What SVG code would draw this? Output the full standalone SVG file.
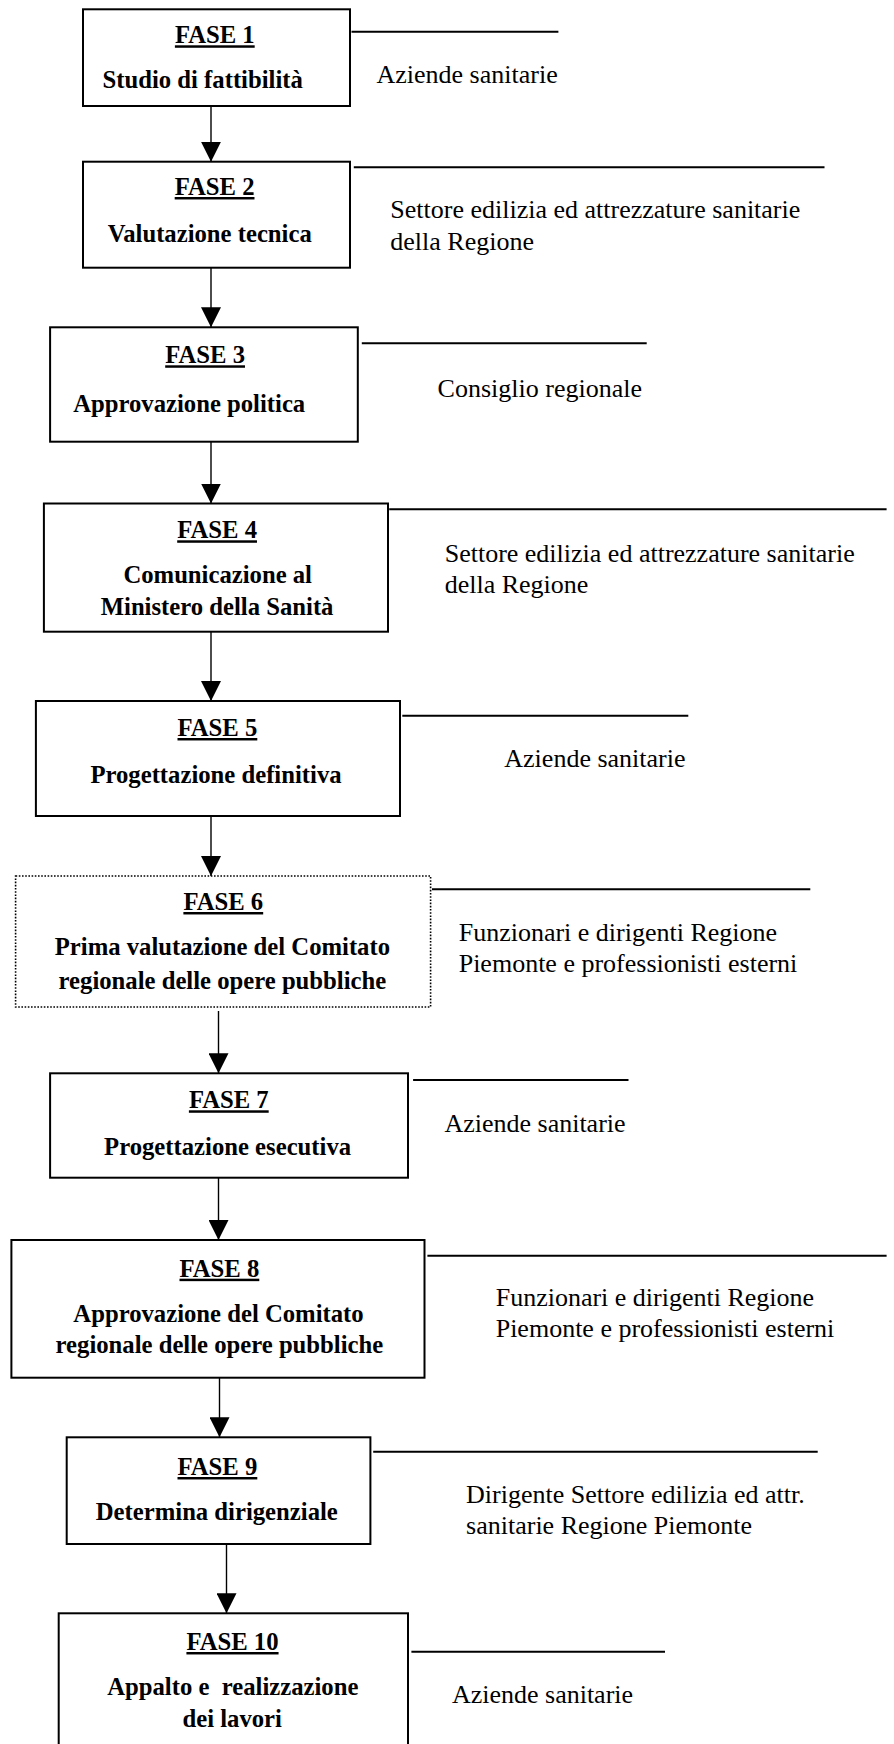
<svg xmlns="http://www.w3.org/2000/svg" width="894" height="1744" viewBox="0 0 894 1744">
<style>
.box{fill:#fff;stroke:#000;stroke-width:2}
.dot{fill:#fff;stroke:#000;stroke-width:1.6;stroke-dasharray:1.6 1.6}
.hl{stroke:#000;stroke-width:2;fill:none}
.ar{stroke:#000;stroke-width:1.4;fill:none;marker-end:url(#ah)}
.b{font-family:"Liberation Serif","Times New Roman",serif;font-weight:bold;font-size:24.7px;text-anchor:middle;fill:#000}
.u{text-decoration:underline}
.r{font-family:"Liberation Serif","Times New Roman",serif;font-size:26px;fill:#000}
</style>
<defs>
<marker id="ah" markerUnits="userSpaceOnUse" markerWidth="20" markerHeight="20" refX="20" refY="10" orient="auto">
<path d="M0,0 L20,10 L0,20 z" fill="#000"/>
</marker>
</defs>
<rect width="894" height="1744" fill="#fff"/>
<g id="connectors">
<line class="ar" x1="211" y1="106" x2="211" y2="161.7"/>
<line class="ar" x1="211" y1="267.7" x2="211" y2="327.3"/>
<line class="ar" x1="211" y1="441.7" x2="211" y2="503.5"/>
<line class="ar" x1="211" y1="631.7" x2="211" y2="701"/>
<line class="ar" x1="211" y1="816" x2="211" y2="876"/>
<line class="ar" x1="218.5" y1="1011" x2="218.5" y2="1073.3"/>
<line class="ar" x1="218.5" y1="1177.7" x2="218.5" y2="1240"/>
<line class="ar" x1="219.5" y1="1377.7" x2="219.5" y2="1437.3"/>
<line class="ar" x1="226.5" y1="1544" x2="226.5" y2="1613.3"/>
<line class="hl" x1="351.5" y1="31.7" x2="558.4" y2="31.7"/>
<line class="hl" x1="353.8" y1="167.3" x2="824.5" y2="167.3"/>
<line class="hl" x1="361.8" y1="343.3" x2="646.7" y2="343.3"/>
<line class="hl" x1="389.2" y1="509.3" x2="886.6" y2="509.3"/>
<line class="hl" x1="402.3" y1="715.7" x2="688.3" y2="715.7"/>
<line class="hl" x1="432" y1="889.3" x2="810.3" y2="889.3"/>
<line class="hl" x1="413.1" y1="1080" x2="628.5" y2="1080"/>
<line class="hl" x1="427.4" y1="1255.7" x2="886.6" y2="1255.7"/>
<line class="hl" x1="373.2" y1="1451.7" x2="817.7" y2="1451.7"/>
<line class="hl" x1="411.4" y1="1651.7" x2="665" y2="1651.7"/>
</g>
<g id="fase1">
<rect class="box" x="83" y="9.3" width="267" height="96.7"/>
<text class="b u" x="214.8" y="43.3">FASE 1</text>
<text class="b" x="202.7" y="88.3">Studio di fattibilità</text>
</g>
<g id="label1"><text class="r" x="376.5" y="83">Aziende sanitarie</text></g>
<g id="fase2">
<rect class="box" x="83" y="161.7" width="267" height="106"/>
<text class="b u" x="214.6" y="195">FASE 2</text>
<text class="b" x="209.7" y="241.7">Valutazione tecnica</text>
</g>
<g id="label2"><text class="r" x="390.3" y="218.3">Settore edilizia ed attrezzature sanitarie</text><text class="r" x="390.3" y="250">della Regione</text></g>
<g id="fase3">
<rect class="box" x="50.1" y="327.3" width="307.7" height="114.4"/>
<text class="b u" x="205.1" y="363.3">FASE 3</text>
<text class="b" x="189.2" y="411.7">Approvazione politica</text>
</g>
<g id="label3"><text class="r" x="437.6" y="396.7">Consiglio regionale</text></g>
<g id="fase4">
<rect class="box" x="43.9" y="503.5" width="344.1" height="128.2"/>
<text class="b u" x="217.1" y="538.3">FASE 4</text>
<text class="b" x="217.7" y="583.3">Comunicazione al</text>
<text class="b" x="217.1" y="615">Ministero della Sanità</text>
</g>
<g id="label4"><text class="r" x="444.7" y="561.7">Settore edilizia ed attrezzature sanitarie</text><text class="r" x="444.7" y="592.7">della Regione</text></g>
<g id="fase5">
<rect class="box" x="35.9" y="701" width="364.1" height="115"/>
<text class="b u" x="217.4" y="736">FASE 5</text>
<text class="b" x="216" y="782.7">Progettazione definitiva</text>
</g>
<g id="label5"><text class="r" x="504.3" y="766.7">Aziende sanitarie</text></g>
<g id="fase6">
<rect class="dot" x="15.6" y="876" width="415" height="131"/>
<text class="b u" x="223.3" y="910">FASE 6</text>
<text class="b" x="222.4" y="955">Prima valutazione del Comitato</text>
<text class="b" x="222.4" y="988.5">regionale delle opere pubbliche</text>
</g>
<g id="label6"><text class="r" x="458.7" y="940.7">Funzionari e dirigenti Regione</text><text class="r" x="458.7" y="972">Piemonte e professionisti esterni</text></g>
<g id="fase7">
<rect class="box" x="50.1" y="1073.3" width="357.9" height="104.4"/>
<text class="b u" x="228.8" y="1108.3">FASE 7</text>
<text class="b" x="227.6" y="1155">Progettazione esecutiva</text>
</g>
<g id="label7"><text class="r" x="444.4" y="1132.3">Aziende sanitarie</text></g>
<g id="fase8">
<rect class="box" x="11.4" y="1240" width="413.1" height="137.7"/>
<text class="b u" x="219.4" y="1276.7">FASE 8</text>
<text class="b" x="218.5" y="1321.7">Approvazione del Comitato</text>
<text class="b" x="219.4" y="1353.3">regionale delle opere pubbliche</text>
</g>
<g id="label8"><text class="r" x="495.7" y="1306">Funzionari e dirigenti Regione</text><text class="r" x="495.7" y="1336.7">Piemonte e professionisti esterni</text></g>
<g id="fase9">
<rect class="box" x="66.7" y="1437.3" width="303.7" height="106.7"/>
<text class="b u" x="217.4" y="1475">FASE 9</text>
<text class="b" x="216.8" y="1520">Determina dirigenziale</text>
</g>
<g id="label9"><text class="r" x="466.1" y="1503.3">Dirigente Settore edilizia ed attr.</text><text class="r" x="466.1" y="1534">sanitarie Regione Piemonte</text></g>
<g id="fase10">
<rect class="box" x="58.7" y="1613.3" width="349.3" height="140"/>
<text class="b u" x="232.5" y="1650">FASE 10</text>
<text class="b" x="232.8" y="1695" xml:space="preserve">Appalto e  realizzazione</text>
<text class="b" x="232.2" y="1726.7">dei lavori</text>
</g>
<g id="label10"><text class="r" x="451.9" y="1702.7">Aziende sanitarie</text></g>
</svg>
